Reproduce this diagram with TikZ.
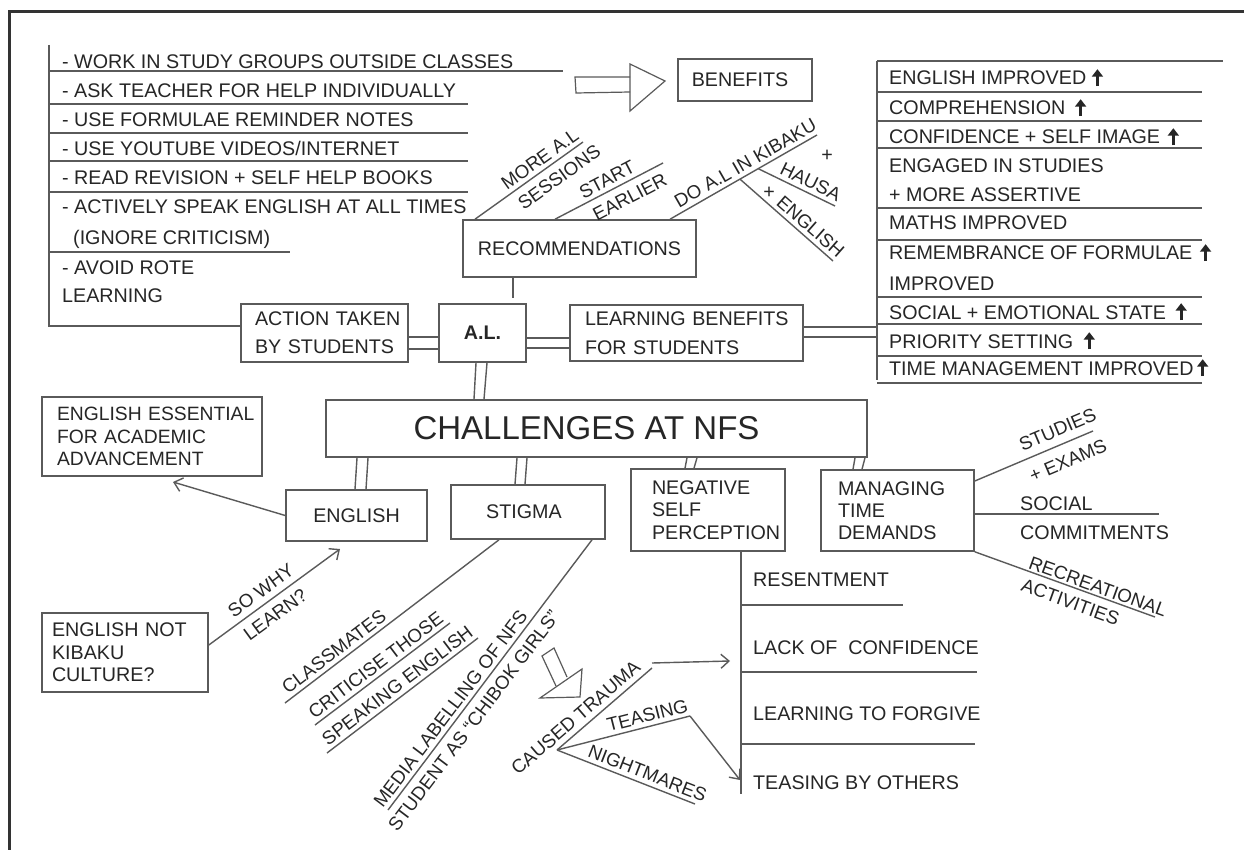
\documentclass[tikz,border=0pt]{standalone}
\usepackage{fontspec}
\setmainfont{Liberation Sans}
\usetikzlibrary{arrows.meta}
\definecolor{txt}{HTML}{262626}
\definecolor{linec}{HTML}{5A5A5A}
\definecolor{framec}{HTML}{333333}
\newcommand{\fsz}{\fontsize{19.7}{22.5}\selectfont}
\newcommand{\fsl}{\fontsize{18.8}{22}\selectfont}
\begin{document}
\begin{tikzpicture}[x=1pt,y=-1pt,
 ln/.style={draw=linec, line width=1.4pt},
 box/.style={draw=linec, line width=1.6pt, text=txt, inner sep=0pt},
 cbox/.style={box, align=center, font=\fsz},
 lbox/.style={box, align=left},
 lbl/.style={font=\fsz, text=txt, inner sep=0pt, text height=14pt, text depth=0pt},
 slab/.style={font=\fsl, text=txt, inner sep=4pt, text height=13.5pt, text depth=0pt, sloped},
 slabb/.style={slab, inner sep=7pt},
 arr/.style={ln, -{Straight Barb[length=8pt,width=14pt]}},
 uparr/.style={draw=txt, line width=2.8pt, -{Triangle[width=11pt,length=7.5pt]}},
 hollow/.style={ln, line width=1.2pt, line join=miter}
]
\useasboundingbox (0,0) rectangle (1244,850);
\fill[white] (0,0) rectangle (1244,850);
% frame
\draw[draw=framec, line width=3pt] (9,850) -- (9,12) -- (1244,12);

% ---------- boxes ----------
\node[lbox, font={\fontsize{19.7}{28}\selectfont}, text width=139pt, inner xsep=14pt, minimum height=58pt] (act) at (324.5,333) {\mbox{ACTION TAKEN}\\\mbox{BY STUDENTS}};
\node[cbox, minimum width=87pt, minimum height=58pt] (al) at (482.5,333) {\textbf{A.L.}};
\node[lbox, font={\fontsize{19.7}{29}\selectfont}, text width=203pt, inner xsep=15pt, minimum height=56pt] (learn) at (686.5,333) {\mbox{LEARNING BENEFITS}\\\mbox{FOR STUDENTS}};
\node[cbox, minimum width=134pt, minimum height=42pt] (ben) at (745,80) {\hspace*{-10pt}BENEFITS};
\node[cbox, minimum width=233pt, minimum height=57pt] (rec) at (579.5,248.5) {RECOMMENDATIONS};
\node[box, font={\fontsize{33}{36}\selectfont}, minimum width=541pt, minimum height=57pt] (chall) at (596.5,428.5) {\hspace*{-20pt}CHALLENGES AT NFS};
\node[lbox, font={\fontsize{19.3}{22.5}\selectfont}, text width=190pt, inner xsep=15pt, minimum height=79pt] (ess) at (152,436.5) {\mbox{ENGLISH ESSENTIAL}\\\mbox{FOR ACADEMIC}\\\mbox{ADVANCEMENT}};
\node[cbox, minimum width=141pt, minimum height=51pt] (eng) at (356.5,515.5) {ENGLISH};
\node[cbox, minimum width=154pt, minimum height=54pt] (stig) at (528,512) {\hspace*{-8pt}STIGMA};
\node[lbox, font={\fontsize{19.7}{22.5}\selectfont}, text width=112pt, inner xsep=21pt, minimum height=82pt] (neg) at (708,510) {NEGATIVE\\SELF\\\mbox{PERCEPTION}};
\node[lbox, font={\fontsize{19.7}{22}\selectfont}, text width=119pt, inner xsep=17pt, minimum height=81pt] (man) at (897.5,510.5) {MANAGING\\TIME\\DEMANDS};
\node[lbox, font={\fontsize{19.7}{22.5}\selectfont}, text width=146pt, inner xsep=10pt, minimum height=79pt] (nok) at (125,652.5) {\mbox{ENGLISH NOT}\\KIBAKU\\CULTURE?};

% ---------- top-left list ----------
\coordinate (lc) at (49,326);
\draw[ln] (49,45) -- (lc) -- (act.west |- lc);
\node[lbl, anchor=west] (a1) at (62,62) {- WORK IN STUDY GROUPS OUTSIDE CLASSES};
\node[lbl, anchor=west] (a2) at (62,91) {- ASK TEACHER FOR HELP INDIVIDUALLY};
\node[lbl, anchor=west] (a3) at (62,120) {- USE FORMULAE REMINDER NOTES};
\node[lbl, anchor=west] (a4) at (62,149) {- USE YOUTUBE VIDEOS/INTERNET};
\node[lbl, anchor=west] (a5) at (62,178) {- READ REVISION + SELF HELP BOOKS};
\node[lbl, anchor=west] (a6) at (62,207) {- ACTIVELY SPEAK ENGLISH AT ALL TIMES};
\node[lbl, anchor=west] (a7) at (73,238) {(IGNORE CRITICISM)};
\node[lbl, anchor=west] (a8) at (62,267) {- AVOID ROTE};
\node[lbl, anchor=west] (a9) at (62,295) {LEARNING};
\draw[ln] (49,71) -- (563,71);
\draw[ln] (49,104) -- (468,104);
\draw[ln] (49,133) -- (468,133);
\draw[ln] (49,161) -- (468,161);
\draw[ln] (49,192) -- (468,192);
\draw[ln] (49,252) -- (290,252);

% hollow arrow to BENEFITS
\draw[hollow] (630,77) -- (575,77) -- (576,93) -- (630,92);
\draw[hollow] (630,64) -- (665,81) -- (630,111) -- cycle;

% ---------- right list ----------
\draw[ln] (877,61) -- (877,380);
\draw[ln] (877,61) -- (1223,61);
\foreach \yy in {92,121,148,208,240,297,324,356,383} \draw[ln] (877,\yy) -- (1202,\yy);
\node[lbl, anchor=west] (r1) at (889,78) {ENGLISH IMPROVED};
\node[lbl, anchor=west] (r2) at (889,108) {COMPREHENSION};
\node[lbl, anchor=west] (r3) at (889,137) {CONFIDENCE + SELF IMAGE};
\node[lbl, anchor=west] (r4) at (889,166) {ENGAGED IN STUDIES};
\node[lbl, anchor=west] (r5) at (889,195) {+ MORE ASSERTIVE};
\node[lbl, anchor=west] (r6) at (889,223) {MATHS IMPROVED};
\node[lbl, anchor=west] (r7) at (889,253) {REMEMBRANCE OF FORMULAE};
\node[lbl, anchor=west] (r8) at (889,283) {IMPROVED};
\node[lbl, anchor=west] (r9) at (889,312) {SOCIAL + EMOTIONAL STATE};
\node[lbl, anchor=west] (r10) at (889,341) {PRIORITY SETTING};
\node[lbl, anchor=west] (r11) at (889,368) {TIME MANAGEMENT IMPROVED};
\draw[uparr] ([xshift=11pt,yshift=-1pt]r1.south east) -- ++(0,-17);
\draw[uparr] ([xshift=15pt,yshift=-1pt]r2.south east) -- ++(0,-17);
\draw[uparr] ([xshift=13pt,yshift=-1pt]r3.south east) -- ++(0,-17);
\draw[uparr] ([xshift=13pt,yshift=-1pt]r7.south east) -- ++(0,-17);
\draw[uparr] ([xshift=15pt,yshift=-1pt]r9.south east) -- ++(0,-17);
\draw[uparr] ([xshift=16pt,yshift=-1pt]r10.south east) -- ++(0,-17);
\draw[uparr] ([xshift=9pt,yshift=-1pt]r11.south east) -- ++(0,-17);

% ---------- connectors around A.L. ----------
\draw[ln] ([yshift=-4pt]act.east) -- ([yshift=-4pt]al.west);
\draw[ln] ([yshift=-16pt]act.east) -- ([yshift=-16pt]al.west);
\draw[ln] ([yshift=-5pt]al.east) -- ([yshift=-5pt]learn.west);
\draw[ln] ([yshift=-15pt]al.east) -- ([yshift=-15pt]learn.west);
\draw[ln] ([yshift=6pt]learn.east) -- ([yshift=6pt]learn.east -| 877,0);
\draw[ln] ([yshift=-4pt]learn.east) -- ([yshift=-4pt]learn.east -| 877,0);
\draw[ln] ([xshift=-66.5pt]rec.south) -- ++(0,20);
\draw[ln] ([xshift=-6.5pt]al.south) -- ([xshift=-8.5pt]al.south |- chall.north);
\draw[ln] ([xshift=4.5pt]al.south) -- ([xshift=1.5pt]al.south |- chall.north);

% ---------- recommendations branches ----------
\draw[ln] ([xshift=-104.5pt]rec.north) -- (583,142)
  node[slab, pos=.66, above] {MORE A.L}
  node[slabb, pos=.70, below] {SESSIONS};
\draw[ln] ([xshift=-24.5pt]rec.north) -- (663,163)
  node[slab, pos=.53, above] {START}
  node[slabb, pos=.63, below] {EARLIER};
\draw[ln] ([xshift=90.5pt]rec.north) -- (817,135)
  node[slab, pos=.55, above] {DO A.L IN KIBAKU}
  coordinate[pos=.6] (hb) coordinate[pos=.476] (eb);
\draw[ln] (hb) -- (835,206) node[slab, pos=.62, above] {HAUSA};
\draw[ln] (eb) -- (833,261) node[slab, pos=.68, above] {ENGLISH};
\node[lbl] (p1) at (827,155) {+};
\node[lbl] (p2) at (769,192) {+};

% ---------- challenges to sub-boxes ----------
\draw[ln] ([xshift=0.5pt]eng.north |- chall.south) -- ([xshift=-1.5pt]eng.north);
\draw[ln] ([xshift=11.5pt]eng.north |- chall.south) -- ([xshift=9.5pt]eng.north);
\draw[ln] ([xshift=-11pt]stig.north |- chall.south) -- ([xshift=-13pt]stig.north);
\draw[ln] ([xshift=-1pt]stig.north |- chall.south) -- ([xshift=-3pt]stig.north);
\draw[ln] ([xshift=-21pt]neg.north |- chall.south) -- ([xshift=-23pt]neg.north);
\draw[ln] ([xshift=-11pt]neg.north |- chall.south) -- ([xshift=-14pt]neg.north);
\draw[ln] ([xshift=-42.5pt]man.north |- chall.south) -- ([xshift=-44.5pt]man.north);
\draw[ln] ([xshift=-32.5pt]man.north |- chall.south) -- ([xshift=-35.5pt]man.north);

% ---------- English ----------
\coordinate (essarr) at (173,482);
\draw[arr] (eng.west) -- (essarr);
\coordinate (whyarr) at (340,549);
\draw[arr] ([yshift=7.5pt]nok.east) -- (whyarr)
  node[slab, pos=.456, above, inner sep=6pt] {SO WHY}
  node[slabb, pos=.44, below] {LEARN?};

% ---------- Stigma ----------
\draw[ln] (285,703) -- ([xshift=-29pt]stig.south)
  node[slab, pos=.26, above] {CLASSMATES};
\draw[ln] (315,725) -- (450,623) node[slab, pos=.5, above] {CRITICISE THOSE};
\draw[ln] (327,753) -- (478,638) node[slab, pos=.51, above] {SPEAKING ENGLISH};
\draw[ln] (388,810) -- ([xshift=64pt]stig.south)
  node[slab, pos=.35, above] {MEDIA LABELLING OF NFS}
  node[slabb, pos=.363, below] {STUDENT AS “CHIBOK GIRLS”};
% hollow arrow
\draw[hollow] (556,686) -- (542,656) -- (554,648) -- (567,677);
\draw[hollow] (540,698) -- (582,669) -- (580,697) -- cycle;

% trauma branches
\coordinate (ct) at (557,750);
\coordinate (cte) at (652,668);
\coordinate (tse) at (690,716);
\draw[ln] (ct) -- (cte) node[slab, pos=.28, above, inner sep=5pt] {CAUSED TRAUMA};
\draw[ln] (ct) -- (tse) node[slab, pos=.70, above] {TEASING};
\draw[ln] (ct) -- (695,804) node[slab, pos=.626, above] {NIGHTMARES};
\coordinate (lackarr) at (730,661);
\coordinate (teasarr) at (740,780);
\draw[arr] ([yshift=5pt]cte) -- (lackarr);
\draw[arr] (tse) -- (teasarr);

% ---------- negative self perception list ----------
\draw[ln] ([xshift=33pt]neg.south) -- ++(0,242);
\draw[ln] (741,605) -- (903,605);
\draw[ln] (741,672) -- (977,672);
\draw[ln] (741,744) -- (975,744);
\node[lbl, anchor=west] (n1) at (753,579) {RESENTMENT};
\node[lbl, anchor=west] (n2) at (753,647) {LACK OF\ \ CONFIDENCE};
\node[lbl, anchor=west] (n3) at (753,713) {LEARNING TO FORGIVE};
\node[lbl, anchor=west] (n4) at (753,782) {TEASING BY OTHERS};

% ---------- managing time branches ----------
\draw[ln] ([yshift=29.5pt]man.east) -- (1093,431)
  node[slab, pos=.75, above, inner sep=8pt] {STUDIES}
  node[slabb, pos=.73, below, inner sep=10pt] {+ EXAMS};
\draw[ln] ([yshift=-3.5pt]man.east) -- (1159,514);
\node[lbl, anchor=west] (m1) at (1020,503) {SOCIAL};
\node[lbl, anchor=west] (m2) at (1020,532) {COMMITMENTS};
\draw[ln] (man.south east) -- (1155,617)
  node[slab, pos=.666, above, inner sep=2pt] {RECREATIONAL}
  node[slabb, pos=.558, below] {ACTIVITIES};
\end{tikzpicture}
\end{document}
